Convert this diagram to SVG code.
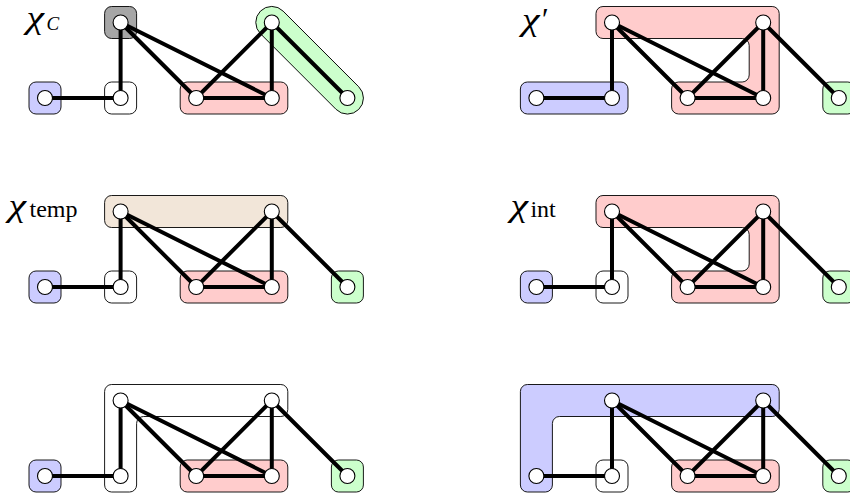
<svg xmlns="http://www.w3.org/2000/svg" width="850" height="493" viewBox="0 0 850 493">
<style>
.edge{stroke:#000;stroke-width:4;fill:none;stroke-linecap:round}
.nd{fill:#fff;stroke:#000;stroke-width:1.1}
.box{stroke:#000;stroke-width:0.9}
.blue{fill:#ccccff}.red{fill:#ffcccc}.green{fill:#ccffcc}.gray{fill:#a6a6a6}.tan{fill:#f2e6d9}.white{fill:#fff}
.chi{font-family:"Liberation Serif",serif;font-style:italic;font-size:31px;fill:#000}
.cal{font-family:"Liberation Serif",serif;font-style:italic;font-size:19px;fill:#000}
.sub{font-family:"Liberation Serif",serif;font-style:normal;font-size:24px;fill:#000}
</style>
<defs>
<g id="edges">
<line class="edge" x1="45" y1="98" x2="120.6" y2="98"/>
<line class="edge" x1="120.6" y1="98" x2="120.6" y2="22.5"/>
<line class="edge" x1="120.6" y1="22.5" x2="196.2" y2="98"/>
<line class="edge" x1="120.6" y1="22.5" x2="271.8" y2="98"/>
<line class="edge" x1="196.2" y1="98" x2="271.8" y2="98"/>
<line class="edge" x1="196.2" y1="98" x2="271.8" y2="22.5"/>
<line class="edge" x1="271.8" y1="98" x2="271.8" y2="22.5"/>
<line class="edge" x1="271.8" y1="22.5" x2="347.4" y2="98"/>
</g>
<circle id="n" class="nd" r="7.5"/>
<rect id="sq" class="box" x="-16" y="-16" width="32" height="32" rx="7"/>
</defs>

<!-- Panel 1: chi_C -->
<g id="panel1">
<g id="p1-label">
<text class="chi" transform="translate(26.5,28) scale(1.28,1)">χ</text>
<text class="cal" x="46.5" y="29.5">C</text>
</g>
<g id="p1-groups">
<use href="#sq" class="blue" x="45" y="98"/>
<use href="#sq" class="white" x="120.6" y="98"/>
<use href="#sq" class="gray" x="120.6" y="22.5"/>
<rect class="box red" x="180.2" y="82" width="107.6" height="32" rx="7"/>
<rect class="box green" transform="translate(309.6,60.25) rotate(45)" x="-69.5" y="-16" width="139" height="32" rx="16"/>
</g>
<g id="p1-connectors"><use href="#edges"/></g>
<g id="p1-a"><use href="#n" x="45" y="98"/></g>
<g id="p1-b"><use href="#n" x="120.6" y="98"/></g>
<g id="p1-c"><use href="#n" x="120.6" y="22.5"/></g>
<g id="p1-d"><use href="#n" x="196.2" y="98"/></g>
<g id="p1-e"><use href="#n" x="271.8" y="98"/></g>
<g id="p1-f"><use href="#n" x="271.8" y="22.5"/></g>
<g id="p1-g"><use href="#n" x="347.4" y="98"/></g>
</g>

<!-- Panel 2: chi' -->
<g id="panel2" transform="translate(491.4,0)">
<g id="p2-label">
<text class="chi" transform="translate(30.5,30) scale(1.28,1)">χ</text>
<text class="chi" x="48.5" y="30">′</text>
</g>
<g id="p2-groups">
<rect class="box blue" x="29" y="82" width="107.6" height="32" rx="7"/>
<path class="box red" d="M111.6,6.5 H280.8 A7,7 0 0 1 287.8,13.5 V107 A7,7 0 0 1 280.8,114 H187.2 A7,7 0 0 1 180.2,107 V89 A7,7 0 0 1 187.2,82 H250.8 A7,7 0 0 0 257.8,75 V45.5 A7,7 0 0 0 250.8,38.5 H111.6 A7,7 0 0 1 104.6,31.5 V13.5 A7,7 0 0 1 111.6,6.5 Z"/>
<use href="#sq" class="green" x="347.4" y="98"/>
</g>
<g id="p2-connectors"><use href="#edges"/></g>
<g id="p2-a"><use href="#n" x="45" y="98"/></g>
<g id="p2-b"><use href="#n" x="120.6" y="98"/></g>
<g id="p2-c"><use href="#n" x="120.6" y="22.5"/></g>
<g id="p2-d"><use href="#n" x="196.2" y="98"/></g>
<g id="p2-e"><use href="#n" x="271.8" y="98"/></g>
<g id="p2-f"><use href="#n" x="271.8" y="22.5"/></g>
<g id="p2-g"><use href="#n" x="347.4" y="98"/></g>
</g>

<!-- Panel 3: chi_temp -->
<g id="panel3" transform="translate(0,189)">
<g id="p3-label">
<text class="chi" transform="translate(8.5,27) scale(1.28,1)">χ</text>
<text class="sub" x="29.5" y="27.7">temp</text>
</g>
<g id="p3-groups">
<use href="#sq" class="blue" x="45" y="98"/>
<use href="#sq" class="white" x="120.6" y="98"/>
<rect class="box tan" x="104.6" y="6.5" width="183.2" height="32" rx="7"/>
<rect class="box red" x="180.2" y="82" width="107.6" height="32" rx="7"/>
<use href="#sq" class="green" x="347.4" y="98"/>
</g>
<g id="p3-connectors"><use href="#edges"/></g>
<g id="p3-a"><use href="#n" x="45" y="98"/></g>
<g id="p3-b"><use href="#n" x="120.6" y="98"/></g>
<g id="p3-c"><use href="#n" x="120.6" y="22.5"/></g>
<g id="p3-d"><use href="#n" x="196.2" y="98"/></g>
<g id="p3-e"><use href="#n" x="271.8" y="98"/></g>
<g id="p3-f"><use href="#n" x="271.8" y="22.5"/></g>
<g id="p3-g"><use href="#n" x="347.4" y="98"/></g>
</g>

<!-- Panel 4: chi_int -->
<g id="panel4" transform="translate(491.4,189)">
<g id="p4-label">
<text class="chi" transform="translate(19,27) scale(1.28,1)">χ</text>
<text class="sub" x="39" y="28">int</text>
</g>
<g id="p4-groups">
<use href="#sq" class="blue" x="45" y="98"/>
<use href="#sq" class="white" x="120.6" y="98"/>
<path class="box red" d="M111.6,6.5 H280.8 A7,7 0 0 1 287.8,13.5 V107 A7,7 0 0 1 280.8,114 H187.2 A7,7 0 0 1 180.2,107 V89 A7,7 0 0 1 187.2,82 H250.8 A7,7 0 0 0 257.8,75 V45.5 A7,7 0 0 0 250.8,38.5 H111.6 A7,7 0 0 1 104.6,31.5 V13.5 A7,7 0 0 1 111.6,6.5 Z"/>
<use href="#sq" class="green" x="347.4" y="98"/>
</g>
<g id="p4-connectors"><use href="#edges"/></g>
<g id="p4-a"><use href="#n" x="45" y="98"/></g>
<g id="p4-b"><use href="#n" x="120.6" y="98"/></g>
<g id="p4-c"><use href="#n" x="120.6" y="22.5"/></g>
<g id="p4-d"><use href="#n" x="196.2" y="98"/></g>
<g id="p4-e"><use href="#n" x="271.8" y="98"/></g>
<g id="p4-f"><use href="#n" x="271.8" y="22.5"/></g>
<g id="p4-g"><use href="#n" x="347.4" y="98"/></g>
</g>

<!-- Panel 5 -->
<g id="panel5" transform="translate(0,378)">
<g id="p5-groups">
<use href="#sq" class="blue" x="45" y="98"/>
<path class="box white" d="M111.6,6.5 H280.8 A7,7 0 0 1 287.8,13.5 V31.5 A7,7 0 0 1 280.8,38.5 H143.6 A7,7 0 0 0 136.6,45.5 V107 A7,7 0 0 1 129.6,114 H111.6 A7,7 0 0 1 104.6,107 V13.5 A7,7 0 0 1 111.6,6.5 Z"/>
<rect class="box red" x="180.2" y="82" width="107.6" height="32" rx="7"/>
<use href="#sq" class="green" x="347.4" y="98"/>
</g>
<g id="p5-connectors"><use href="#edges"/></g>
<g id="p5-a"><use href="#n" x="45" y="98"/></g>
<g id="p5-b"><use href="#n" x="120.6" y="98"/></g>
<g id="p5-c"><use href="#n" x="120.6" y="22.5"/></g>
<g id="p5-d"><use href="#n" x="196.2" y="98"/></g>
<g id="p5-e"><use href="#n" x="271.8" y="98"/></g>
<g id="p5-f"><use href="#n" x="271.8" y="22.5"/></g>
<g id="p5-g"><use href="#n" x="347.4" y="98"/></g>
</g>

<!-- Panel 6 -->
<g id="panel6" transform="translate(491.4,378)">
<g id="p6-groups">
<path class="box blue" d="M36,6.5 H280.8 A7,7 0 0 1 287.8,13.5 V31.5 A7,7 0 0 1 280.8,38.5 H68 A7,7 0 0 0 61,45.5 V107 A7,7 0 0 1 54,114 H36 A7,7 0 0 1 29,107 V13.5 A7,7 0 0 1 36,6.5 Z"/>
<use href="#sq" class="white" x="120.6" y="98"/>
<rect class="box red" x="180.2" y="82" width="107.6" height="32" rx="7"/>
<use href="#sq" class="green" x="347.4" y="98"/>
</g>
<g id="p6-connectors"><use href="#edges"/></g>
<g id="p6-a"><use href="#n" x="45" y="98"/></g>
<g id="p6-b"><use href="#n" x="120.6" y="98"/></g>
<g id="p6-c"><use href="#n" x="120.6" y="22.5"/></g>
<g id="p6-d"><use href="#n" x="196.2" y="98"/></g>
<g id="p6-e"><use href="#n" x="271.8" y="98"/></g>
<g id="p6-f"><use href="#n" x="271.8" y="22.5"/></g>
<g id="p6-g"><use href="#n" x="347.4" y="98"/></g>
</g>
</svg>
